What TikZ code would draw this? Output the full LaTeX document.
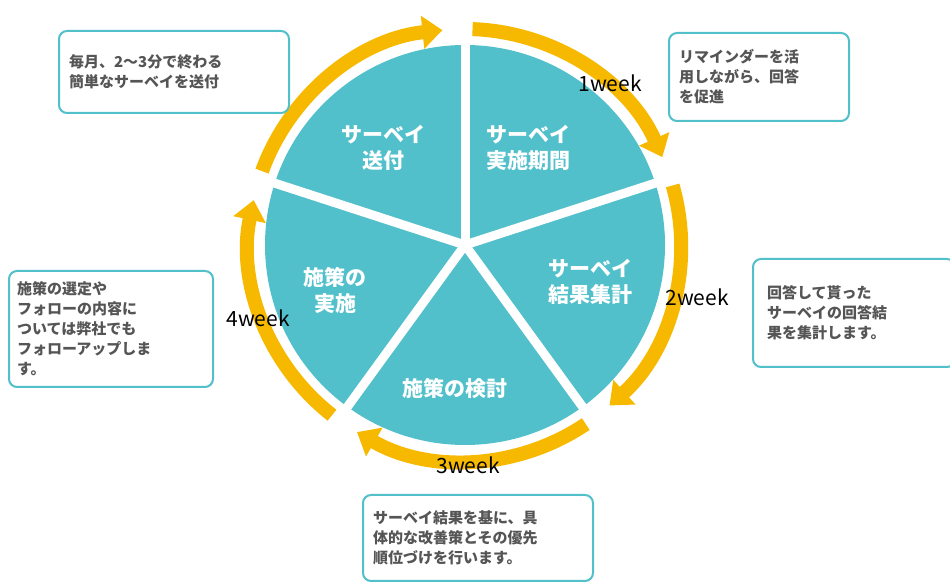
\documentclass[tikz,border=0pt]{standalone}
\usepackage{fontspec}
\setmainfont{Noto Sans CJK JP}
\usetikzlibrary{arrows.meta}
\definecolor{teal}{HTML}{52C0CB}
\definecolor{ring}{HTML}{F7B900}
\definecolor{memo}{HTML}{555555}
\tikzset{
  phase/.style={text=white,font=\fontsize{21}{26}\selectfont\bfseries,align=center},
  week/.style={font=\fontsize{21}{25}\selectfont},
  memobox/.style={draw=teal,line width=2pt,rounded corners=8pt,fill=white,text=memo,
    font=\fontsize{15}{20}\selectfont\bfseries,align=left,anchor=north west,inner sep=10pt},
  ringarc/.style={ring,line width=14pt,-{Triangle[width=32pt,length=20pt]}}
}
\begin{document}
\begin{tikzpicture}[x=1pt,y=1pt]
\useasboundingbox (0,0) rectangle (950,583);
\coordinate (c) at (465,338);

%% pie
\fill[teal] (c) circle (200);
\foreach \a in {90,18,-54,-126,162}
  \draw[white,line width=9pt] (c) -- ++(\a:205);

%% ring arrows
\foreach \a in {90,18,-54,-126,162}
  \draw[ringarc] (c) ++(\a-2:216) arc (\a-2:\a-66:216);

%% phases
\node[phase] (send) at (383,435) {サーベイ\\送付};
\node[phase] (term) at (528,435) {サーベイ\\実施期間};
\node[phase] (sum) at (590,301) {サーベイ\\結果集計};
\node[phase] (plan) at (455,195) {施策の検討};
\node[phase] (act) at (335,293) {施策の\\実施};

%% weeks
\node[week] (w1) at (610,500) {1week};
\node[week] (w2) at (697,286) {2week};
\node[week] (w3) at (468,118) {3week};
\node[week] (w4) at (258,265) {4week};

%% memos
\node[memobox,text width=210pt,minimum height=82pt] (m1) at (58,553) {毎月、2～3分で終わる\\簡単なサーベイを送付};
\node[memobox,text width=160pt,minimum height=88pt] (m2) at (668,551) {リマインダーを活\\用しながら、回答\\を促進};
\node[memobox,text width=174pt,minimum height=108pt,inner sep=14pt] (m3) at (752,325) {回答して貰った\\サーベイの回答結\\果を集計します。};
\node[memobox,text width=188pt,minimum height=116pt,inner sep=8pt] (m4) at (8,313) {施策の選定や\\フォローの内容に\\ついては弊社でも\\フォローアップしま\\す。};
\node[memobox,text width=210pt,minimum height=86pt] (m5) at (362,89) {サーベイ結果を基に、具\\体的な改善策とその優先\\順位づけを行います。};
\end{tikzpicture}
\end{document}
